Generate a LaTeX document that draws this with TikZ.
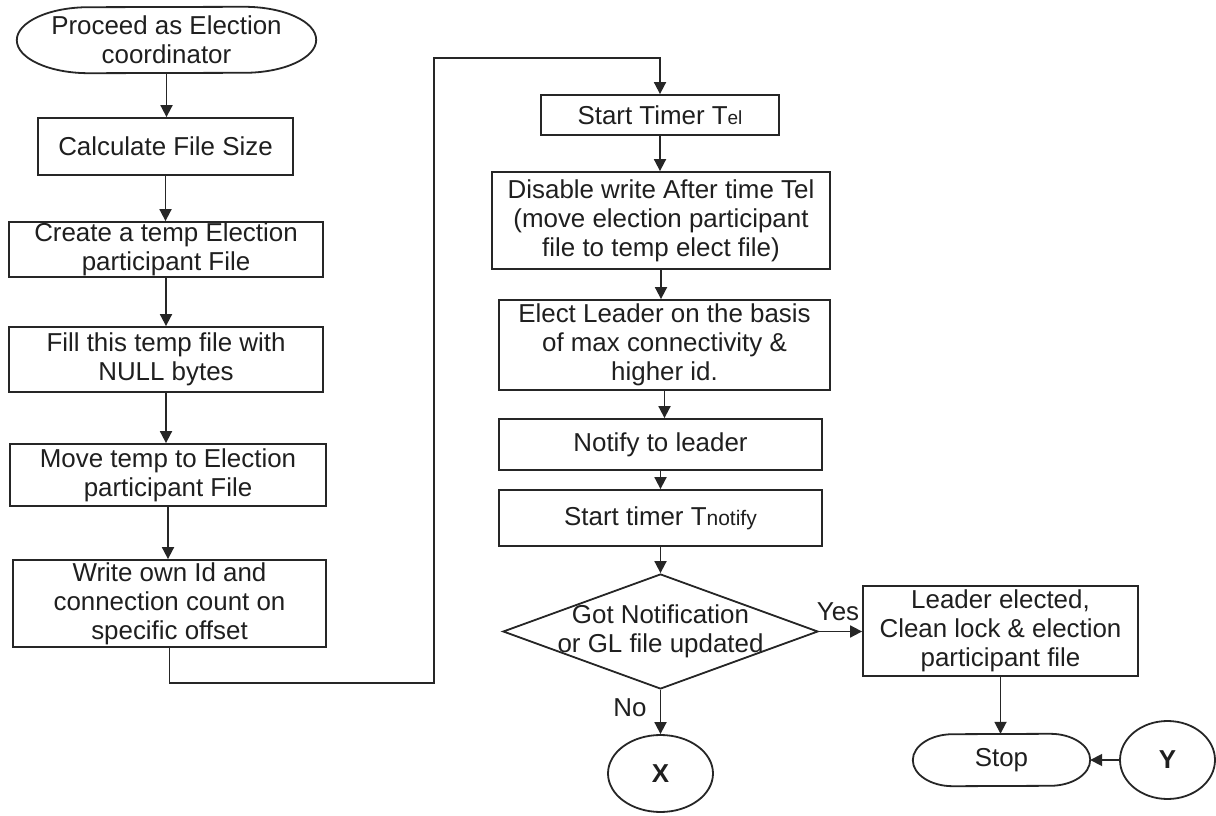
\documentclass[tikz,border=0pt]{standalone}
\usepackage{fontspec}
\setmainfont{Liberation Sans}
\usetikzlibrary{arrows.meta,shapes.geometric,calc}

% Outline of a terminal (start/stop) shape with elliptical end caps,
% drawn around an undrawn node: #1 node name, #2 cap width, #3 cap half-height
\newcommand\terminalpath[3]{%
  \draw[flowline] ($(#1.north east)+(-#2,0)$)
    arc[start angle=90,end angle=-90,x radius=#2,y radius=#3]
    -- ($(#1.south west)+(#2,0)$)
    arc[start angle=270,end angle=90,x radius=#2,y radius=#3] -- cycle;}

\begin{document}
\begin{tikzpicture}[x=1pt,y=1pt,
  font=\fontsize{25.9}{29}\selectfont,
  flowline/.style={line width=1.8pt,draw=black!85},
  arrowline/.style={flowline,-{Triangle[length=12pt,width=12pt]}},
  procbox/.style={rectangle,draw=black!85,line width=1.8pt,fill=white,
    inner sep=0pt,align=center,text=black!88},
  termnode/.style={rectangle,inner sep=0pt,align=center,text=black!88},
  connector/.style={ellipse,draw=black!85,line width=1.8pt,inner sep=0pt,
    text=black!88,font=\fontsize{25.9}{29}\selectfont\bfseries},
  decision/.style={diamond,draw=black!85,line width=1.8pt,inner sep=0pt},
  tag/.style={inner sep=0pt,text=black!88}]
\useasboundingbox (0,0) rectangle (1216,815);
\fill[white] (0,0) rectangle (1216,815);

% left column
\node[termnode,minimum width=299pt,minimum height=66pt] (start) at (166.5,775)
  {Proceed as Election\\coordinator};
\terminalpath{start}{72}{33}
\node[procbox,minimum width=255pt,minimum height=57pt] (calc) at (165.5,668.5)
  {Calculate File Size};
\node[procbox,minimum width=314pt,minimum height=55pt] (create) at (166,565.5)
  {Create a temp Election\\participant File};
\node[procbox,minimum width=314pt,minimum height=65pt] (fill) at (166,455.5)
  {Fill this temp file with\\NULL bytes};
\node[procbox,minimum width=316pt,minimum height=62pt] (move) at (168,340)
  {Move temp to Election\\participant File};
\node[procbox,minimum width=313pt,minimum height=87pt] (write) at (169.5,211.5)
  {Write own Id and\\connection count on\\specific offset};

% middle column
\node[procbox,minimum width=238pt,minimum height=40pt] (timer) at (660,700)
  {Start Timer T{\fontsize{19}{19}\selectfont el}};
\node[procbox,minimum width=338pt,minimum height=97pt] (disable) at (661,594.5)
  {Disable write After time Tel\\(move election participant\\file to temp elect file)};
\node[procbox,minimum width=331pt,minimum height=90pt] (elect) at (664.5,470)
  {Elect Leader on the basis\\of max connectivity \&\\higher id.};
\node[procbox,minimum width=323pt,minimum height=51pt] (notify) at (660.5,370.5)
  {Notify to leader};
\node[procbox,minimum width=323pt,minimum height=56pt] (tnotify) at (660.5,297)
  {Start timer T{\fontsize{21}{21}\selectfont notify}};
\node[decision,minimum width=315pt,minimum height=115pt] (dia) at (660.5,183.5) {};
\node[termnode] (diatext) at (660.5,183.5) {Got Notification\\or GL file updated};
\node[connector,minimum width=105pt,minimum height=77pt] (xcon) at (660.5,41.5) {X};

% right column
\node[procbox,minimum width=275pt,minimum height=90pt] (leader) at (1000.5,184)
  {Leader elected,\\Clean lock \& election\\participant file};
\node[termnode,minimum width=177pt,minimum height=52pt] (stop) at (1001.5,55) {Stop};
\terminalpath{stop}{40}{26}
\node[connector,minimum width=95pt,minimum height=78pt] (ycon) at (1167.5,55) {Y};

% branch labels
\node[tag] (yes) at (838,203) {Yes};
\node[tag] (no) at (630,107) {No};

% route from the left column over to the middle column
\coordinate (loopB) at (434,132);
\coordinate (loopC) at (434,757);

% connectors
\draw[arrowline] (start.south) -- (start.south |- calc.north);
\draw[arrowline] (calc.south) -- (calc.south |- create.north);
\draw[arrowline] (create.south) -- (create.south |- fill.north);
\draw[arrowline] (fill.south) -- (fill.south |- move.north);
\draw[arrowline] (move.south) -- (move.south |- write.north);
\draw[arrowline] (write.south) |- (loopB) -- (loopC) -| (timer.north);
\draw[arrowline] (timer.south) -- (timer.south |- disable.north);
\draw[arrowline] (disable.south) -- (disable.south |- elect.north);
\draw[arrowline] (elect.south) -- (elect.south |- notify.north);
\draw[arrowline] (notify.south) -- (notify.south |- tnotify.north);
\draw[arrowline] (tnotify.south) -- (tnotify.south |- dia.north);
\draw[arrowline] (dia.east) -- (dia.east -| leader.west);
\draw[arrowline] (dia.south) -- (xcon.north);
\draw[arrowline] (leader.south) -- (leader.south |- stop.north);
\draw[arrowline] (ycon.west) -- (stop.east);
\end{tikzpicture}
\end{document}
